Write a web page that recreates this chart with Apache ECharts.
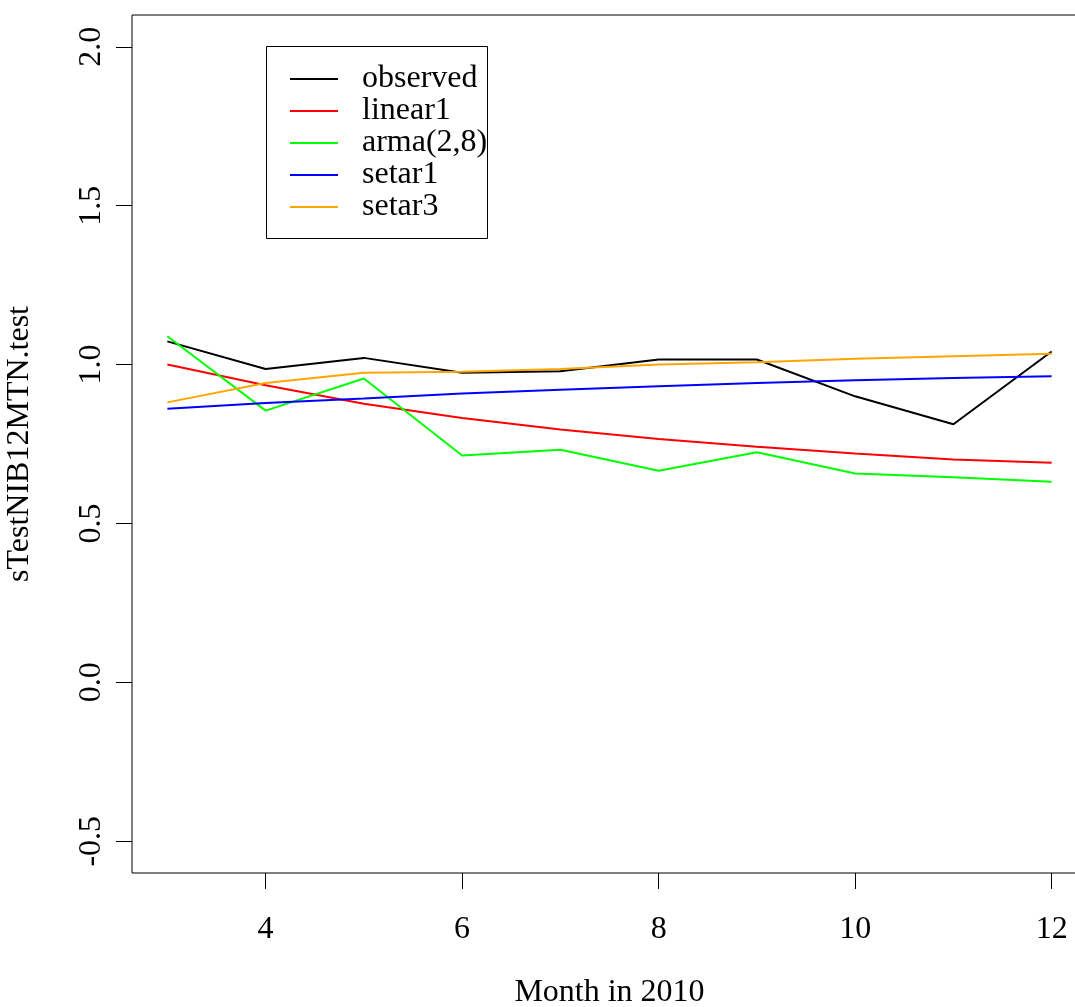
<!DOCTYPE html>
<html>
<head>
<meta charset="utf-8">
<title>sTestNIB12MTN.test forecasts</title>
<script src="https://cdn.jsdelivr.net/npm/echarts@6/dist/echarts.min.js"></script>
<style>
  html, body { margin: 0; padding: 0; background: #fff; }
  #chart { width: 1075px; height: 1007px; }
</style>
</head>
<body>
<div id="chart"></div>
<script>
// Months of 2010 covered by the test window
const months = [3, 4, 5, 6, 7, 8, 9, 10, 11, 12];

// Observed series and the model forecasts
const observed = [1.073, 0.986, 1.021, 0.974, 0.979, 1.016, 1.016, 0.900, 0.812, 1.041];
const linear1  = [1.000, 0.935, 0.877, 0.832, 0.796, 0.766, 0.741, 0.720, 0.701, 0.691];
const arma28   = [1.089, 0.855, 0.956, 0.714, 0.732, 0.666, 0.724, 0.657, 0.645, 0.631];
const setar1   = [0.861, 0.879, 0.893, 0.909, 0.921, 0.932, 0.942, 0.951, 0.958, 0.963];
const setar3   = [0.881, 0.942, 0.974, 0.977, 0.986, 1.000, 1.007, 1.018, 1.026, 1.034];

const seriesNames = ['observed', 'linear1', 'arma(2,8)', 'setar1', 'setar3'];
const seriesValues = [observed, linear1, arma28, setar1, setar3];
const seriesColors = ['#000000', '#ff0000', '#00ff00', '#0000ff', '#ffa500'];

// Axis ticks
const xTicks = [4, 6, 8, 10, 12];
const yTicks = [-0.5, 0.0, 0.5, 1.0, 1.5, 2.0];

const FONT = '"Liberation Serif", "DejaVu Serif", serif';

const chart = echarts.init(document.getElementById('chart'), null, { renderer: 'canvas' });

const series = seriesNames.map((name, i) => ({
  name: name,
  type: 'line',
  data: months.map((m, j) => [m, seriesValues[i][j]]),
  showSymbol: false,
  symbol: 'none',
  lineStyle: { color: seriesColors[i], width: 2 },
  itemStyle: { color: seriesColors[i] },
  emphasis: { disabled: true },
  animation: false,
  z: 2
}));

chart.setOption({
  animation: false,
  backgroundColor: '#ffffff',
  textStyle: { fontFamily: FONT, color: '#000' },
  grid: {
    left: 132, top: 15, right: -12, bottom: 134,
    outerBoundsMode: 'none',
    containLabel: false,
    show: true, borderColor: '#000', borderWidth: 1, backgroundColor: 'transparent'
  },
  xAxis: {
    type: 'value',
    min: 2.64, max: 12.36,
    name: 'Month in 2010',
    nameLocation: 'middle',
    nameGap: 104,
    nameTextStyle: { fontFamily: FONT, fontSize: 32, color: '#000' },
    axisLine: { show: false, onZero: false },
    splitLine: { show: false },
    axisTick: { show: true, inside: false, length: 16, customValues: xTicks,
                lineStyle: { color: '#000', width: 1 } },
    axisLabel: { show: true, customValues: xTicks, margin: 41,
                 fontFamily: FONT, fontSize: 32, color: '#000',
                 formatter: v => String(v) }
  },
  yAxis: {
    type: 'value',
    min: -0.6, max: 2.1,
    name: 'sTestNIB12MTN.test',
    nameLocation: 'middle',
    nameRotate: 90,
    nameGap: 96,
    nameTextStyle: { fontFamily: FONT, fontSize: 32, color: '#000' },
    axisLine: { show: false, onZero: false },
    splitLine: { show: false },
    axisTick: { show: true, inside: false, length: 16, customValues: yTicks,
                lineStyle: { color: '#000', width: 1 } },
    axisLabel: { show: true, customValues: yTicks, rotate: 90, margin: 24,
                 fontFamily: FONT, fontSize: 32, color: '#000',
                 formatter: v => v.toFixed(1) }
  },
  legend: {
    orient: 'vertical',
    left: 290, top: 63,
    padding: 0,
    itemGap: 0,
    itemWidth: 48,
    itemHeight: 2,
    icon: 'rect',
    data: seriesNames,
    selectedMode: false,
    textStyle: { fontFamily: FONT, fontSize: 32, color: '#000', lineHeight: 32,
                 padding: [0, 0, 0, 19] }
  },
  graphic: [{
    type: 'rect',
    left: 266, top: 46,
    shape: { width: 221, height: 192 },
    style: { fill: 'transparent', stroke: '#000', lineWidth: 1 },
    z: 100, silent: true
  }],
  series: series
});
</script>
</body>
</html>
